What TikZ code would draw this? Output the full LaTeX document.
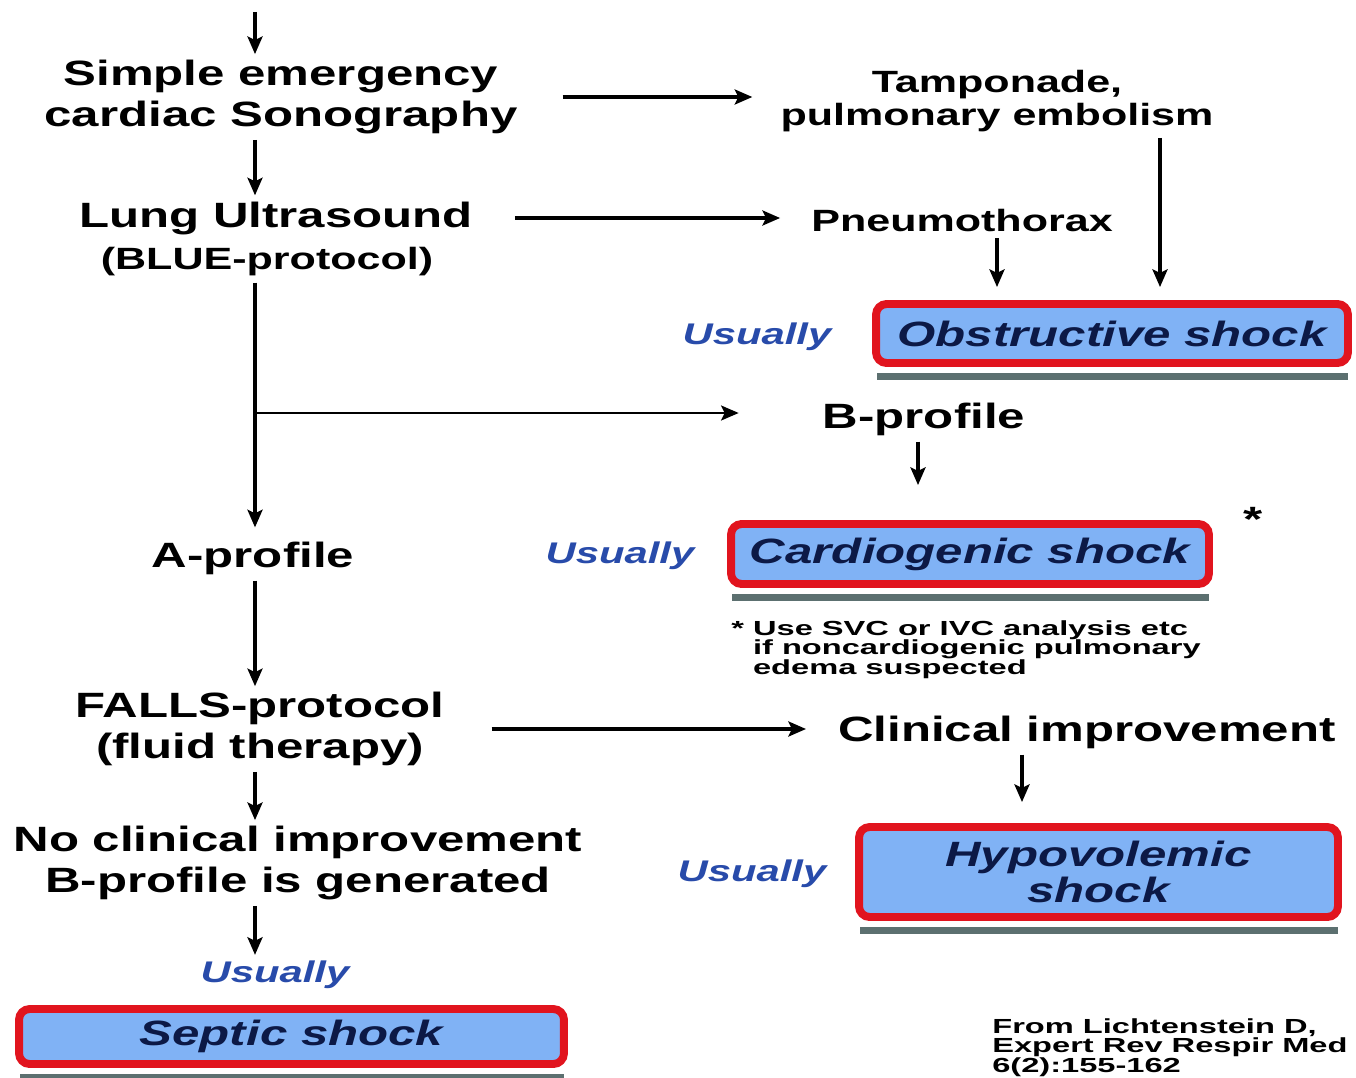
\documentclass[tikz,border=0pt]{standalone}
\usepackage{fontspec}
\setmainfont{Liberation Sans}[FakeStretch=1.4]
\newfontfamily\notefont{Liberation Sans}[FakeStretch=1.6]
\usetikzlibrary{arrows.meta,calc}
\definecolor{boxred}{RGB}{225,20,30}
\definecolor{boxblue}{RGB}{128,178,245}
\definecolor{boxtext}{RGB}{12,25,70}
\definecolor{usualblue}{RGB}{40,75,170}
\definecolor{barcol}{RGB}{92,112,112}
\tikzset{
  lbl/.style={font=\fontsize{20}{23}\selectfont\bfseries, align=center},
  small/.style={font=\fontsize{17.5}{18.5}\selectfont\bfseries, align=center},
  usual/.style={font=\fontsize{17}{20}\selectfont\bfseries\itshape, text=usualblue},
  shockbox/.style={draw=boxred, line width=4.5pt, fill=boxblue, rounded corners=6pt,
    text=boxtext, font=\fontsize{20}{20}\selectfont\bfseries\itshape, align=center},
  note/.style={font=\notefont\fontsize{11.6}{11.3}\selectfont\bfseries, align=left, inner sep=0pt},
  arr/.style={line width=2pt, -{Stealth[length=10pt,width=8.5pt,inset=2pt]}},
}
\begin{document}
\begin{tikzpicture}[x=0.02cm, y=-0.02cm]
  \useasboundingbox (0,0) rectangle (1356,1078);
  \clip (0,0) rectangle (1356,1078);
  \coordinate (top) at (255,12);
  \coordinate (colP) at (997,0);
  \coordinate (colT) at (1160,0);
  \coordinate (colB) at (918,0);
  \coordinate (colC) at (1022,0);
  \coordinate (branch) at (255,413);

  \node[lbl] (sono) at (281,97) {Simple emergency\\cardiac Sonography};
  \node[small] (tamp) at (997,101) {Tamponade,\\pulmonary embolism};
  \node[lbl] (lung) at (276,218) {Lung Ultrasound};
  \node[small] (blue) at (267,262) {(BLUE-protocol)};
  \node[small] (pneu) at (962,221) {Pneumothorax};
  \node[usual] (us1) at (757,337) {Usually};
  \node[shockbox, minimum width=9.44cm, minimum height=1.18cm] (obst) at (1112,333.5) {Obstructive shock};
  \node[lbl] (bprof) at (924,419) {B-profile};
  \node[lbl] (star) at (1253,519) {*};
  \node[usual] (us2) at (620,556) {Usually};
  \node[shockbox, minimum width=9.56cm, minimum height=1.2cm] (cardio) at (970,554) {Cardiogenic shock};
  \node[note, anchor=north west] (fnote) at (731,620) {* Use SVC or IVC analysis etc\\\hphantom{*~}if noncardiogenic pulmonary\\\hphantom{*~}edema suspected};
  \node[lbl] (aprof) at (253,558) {A-profile};
  \node[lbl] (falls) at (260,729) {FALLS-protocol\\(fluid therapy)};
  \node[lbl] (clin) at (1087,732) {Clinical improvement};
  \node[usual] (us3) at (752,874) {Usually};
  \node[shockbox, minimum width=9.58cm, minimum height=1.8cm] (hypo) at (1098.5,872) {Hypovolemic\\shock};
  \node[lbl] (noimp) at (298,863) {No clinical improvement\\B-profile is generated};
  \node[usual] (us4) at (275,975) {Usually};
  \node[shockbox, minimum width=10.9cm, minimum height=1.1cm] (septic) at (291.5,1036.5) {Septic shock};
  \node[note, anchor=north west] (cite) at (992,1018) {From Lichtenstein D,\\Expert Rev Respir Med\\6(2):155-162};

  \foreach \b in {obst,cardio,hypo,septic}
    \fill[barcol] ($(\b.south west)+(5,6)$) rectangle ($(\b.south east)+(-4,13)$);

  \draw[arr] (top) -- (sono.north -| top);
  \draw[arr, shorten <=0.78cm, shorten >=0.44cm] (sono.east) -- (sono.east -| tamp.west);
  \draw[arr] (sono.south -| top) -- (lung.north -| top);
  \draw[arr, shorten <=0.72cm, shorten >=0.5cm] (lung.east) -- (lung.east -| pneu.west);
  \draw[arr, shorten >=0.26cm] (pneu.south -| colP) -- (obst.north -| colP);
  \draw[arr, shorten >=0.26cm] (tamp.south -| colT) -- (obst.north -| colT);
  \draw[arr, shorten >=0.16cm] (blue.south -| top) -- (aprof.north -| top);
  \draw[arr, line width=1.3pt, shorten >=1.56cm] (branch) -- (branch -| bprof.west);
  \draw[arr, shorten >=0.7cm] (bprof.south -| colB) -- (cardio.north -| colB);
  \draw[arr] (aprof.south -| top) -- (falls.north -| top);
  \draw[arr, shorten <=0.82cm, shorten >=0.52cm] (falls.east) -- (falls.east -| clin.west);
  \draw[arr, shorten >=0.42cm] (clin.south -| colC) -- (hypo.north -| colC);
  \draw[arr] (falls.south -| top) -- (noimp.north -| top);
  \draw[arr] (noimp.south -| top) -- (us4.north -| top);
\end{tikzpicture}
\end{document}
